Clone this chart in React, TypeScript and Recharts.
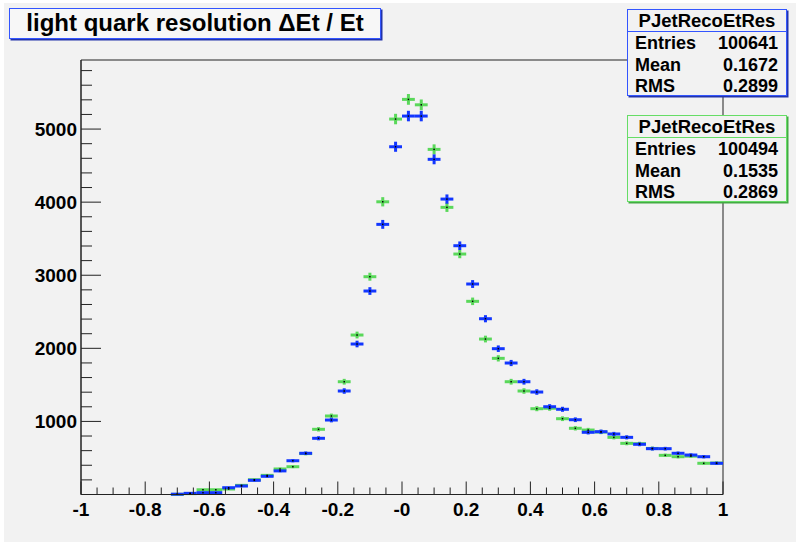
import React from 'react';
import { ComposedChart, Scatter, XAxis, YAxis, ErrorBar, ReferenceArea } from 'recharts';

// Histogram bin centres (bin width 0.04); bins below -0.72 are empty
const binCenters = [
  -0.70, -0.66, -0.62, -0.58, -0.54, -0.50, -0.46, -0.42, -0.38, -0.34,
  -0.30, -0.26, -0.22, -0.18, -0.14, -0.10, -0.06, -0.02, 0.02, 0.06,
  0.10, 0.14, 0.18, 0.22, 0.26, 0.30, 0.34, 0.38, 0.42, 0.46,
  0.50, 0.54, 0.58, 0.62, 0.66, 0.70, 0.74, 0.78, 0.82, 0.86,
  0.90, 0.94, 0.98,
];

// Entries per bin, first PJetRecoEtRes (blue)
const blueCounts = [
  4, 16, 25, 25, 93, 116, 194, 249, 323, 462,
  564, 769, 1019, 1416, 2059, 2784, 3696, 4758, 5178, 5178,
  4586, 4042, 3404, 2880, 2405, 1995, 1799, 1543, 1402, 1201,
  1166, 1023, 851, 859, 828, 782, 687, 627, 627, 564,
  540, 517, 427,
];

// Entries per bin, second PJetRecoEtRes (green)
const greenCounts = [
  2, 12, 65, 65, 75, 125, 202, 262, 349, 380,
  560, 892, 1074, 1543, 2182, 2980, 4005, 5137, 5406, 5332,
  4722, 3929, 3290, 2643, 2127, 1863, 1543, 1416, 1174, 1180,
  1037, 906, 882, 855, 782, 700, 695, 630, 536, 517,
  525, 427, 430,
];

const binHalfWidth = 0.02;

const xTicks = [
  -1, -0.95, -0.9, -0.85, -0.8, -0.75, -0.7, -0.65, -0.6, -0.55,
  -0.5, -0.45, -0.4, -0.35, -0.3, -0.25, -0.2, -0.15, -0.1, -0.05,
  0, 0.05, 0.1, 0.15, 0.2, 0.25, 0.3, 0.35, 0.4, 0.45,
  0.5, 0.55, 0.6, 0.65, 0.7, 0.75, 0.8, 0.85, 0.9, 0.95, 1,
];
const xMajorTicks = [-1, -0.8, -0.6, -0.4, -0.2, 0, 0.2, 0.4, 0.6, 0.8, 1];
const xMajorLabels = ['-1', '-0.8', '-0.6', '-0.4', '-0.2', '-0', '0.2', '0.4', '0.6', '0.8', '1'];

const yTicks = [
  0, 200, 400, 600, 800, 1000, 1200, 1400, 1600, 1800, 2000, 2200, 2400, 2600, 2800,
  3000, 3200, 3400, 3600, 3800, 4000, 4200, 4400, 4600, 4800, 5000, 5200, 5400, 5600, 5800,
];
const yMajorTicks = [1000, 2000, 3000, 4000, 5000];
const yMax = 5945;

const titleText = 'light quark resolution \u0394Et / Et';
const statsTitle = 'PJetRecoEtRes';
const statsNames = ['Entries', 'Mean', 'RMS'];
const blueStats = ['100641', '0.1672', '0.2899'];
const greenStats = ['100494', '0.1535', '0.2869'];

const BLUE = '#1236ff';
const GREEN = '#5ad85a';
const FONT = '"Liberation Sans", Arial, Helvetica, sans-serif';

const toPoints = (counts: number[]) =>
  binCenters.map((x, i) => ({ x, y: counts[i], ex: binHalfWidth, ey: Math.sqrt(counts[i]) }));

const bluePoints = toPoints(blueCounts);
const greenPoints = toPoints(greenCounts);

const near = (a: number, b: number) => Math.abs(a - b) < 1e-6;

const XTick = (props: any) => {
  const { x, y, payload } = props;
  const idx = xMajorTicks.findIndex((t) => near(t, payload.value));
  const major = idx >= 0;
  return (
    <g>
      <line x1={x} x2={x} y1={y} y2={y - (major ? 13 : 7)} stroke="#222" strokeWidth={1} />
      {major && (
        <text x={x} y={y + 21} textAnchor="middle" fontFamily={FONT} fontWeight="bold" fontSize={19} fill="#000">
          {xMajorLabels[idx]}
        </text>
      )}
    </g>
  );
};

const YTick = (props: any) => {
  const { x, y, payload } = props;
  const major = yMajorTicks.some((t) => near(t, payload.value));
  return (
    <g>
      <line x1={x} x2={x + (major ? 20 : 11)} y1={y} y2={y} stroke="#222" strokeWidth={1} />
      {major && (
        <text x={x - 4} y={y + 7} textAnchor="end" fontFamily={FONT} fontWeight="bold" fontSize={19} fill="#000">
          {payload.value}
        </text>
      )}
    </g>
  );
};

const Dot = (props: any) => {
  const { cx, cy } = props;
  if (cx == null || cy == null) return <g />;
  return <rect x={cx - 0.75} y={cy - 0.75} width={1.5} height={1.5} fill="#000" />;
};

const StatsBox = ({ top, color, shade, values }: { top: number; color: string; shade: string; values: string[] }) => (
  <div
    style={{
      position: 'absolute',
      left: 627,
      top,
      width: 160,
      height: 87,
      boxSizing: 'border-box',
      border: `1.5px solid ${color}`,
      boxShadow: `1.5px 1.5px 0 ${shade}`,
      background: '#f2f2f2',
      fontFamily: FONT,
      fontWeight: 'bold',
      fontSize: 18,
      color: '#000',
    }}
  >
    <div style={{ position: 'absolute', left: 0, right: 0, top: 0, height: 22, lineHeight: '22px', textAlign: 'center', fontSize: 18.5 }}>
      {statsTitle}
    </div>
    <div style={{ position: 'absolute', left: 0, right: 0, top: 21, borderTop: `1.5px solid ${color}` }} />
    {statsNames.map((name, i) => (
      <div
        key={name}
        style={{ position: 'absolute', left: 7, right: 8, top: 23 + i * 21.5, height: 21, lineHeight: '21px' }}
      >
        <span>{name}</span>
        <span style={{ position: 'absolute', right: 0 }}>{values[i]}</span>
      </div>
    ))}
  </div>
);

export default function App() {
  return (
    <div style={{ position: 'absolute', left: 0, top: 0, width: 796, height: 543, background: '#ffffff', overflow: 'hidden' }}>
      <div style={{ position: 'absolute', left: 4, top: 3, width: 792, height: 539, background: '#f2f2f2' }} />
      <div style={{ position: 'absolute', left: 0, top: 0 }}>
        <ComposedChart width={796} height={543} margin={{ top: 60, right: 73, bottom: 0, left: 0 }}>
          <XAxis
            type="number"
            dataKey="x"
            domain={[-1, 1]}
            ticks={xTicks}
            interval={0}
            tickSize={0}
            tickMargin={0}
            tickLine={false}
            axisLine={{ stroke: '#222', strokeWidth: 1 }}
            tick={<XTick />}
            height={48.5}
            allowDataOverflow
          />
          <YAxis
            type="number"
            dataKey="y"
            domain={[0, yMax]}
            ticks={yTicks}
            interval={0}
            tickSize={0}
            tickMargin={0}
            tickLine={false}
            axisLine={{ stroke: '#222', strokeWidth: 1 }}
            tick={<YTick />}
            width={81}
            allowDataOverflow
          />
          <ReferenceArea x1={-1} x2={1} y1={0} y2={yMax} fill="none" stroke="#222" strokeWidth={1} ifOverflow="visible" />
          <Scatter data={greenPoints} dataKey="y" shape={<Dot />} isAnimationActive={false}>
            <ErrorBar dataKey="ex" direction="x" width={0} stroke={GREEN} strokeWidth={3} isAnimationActive={false} />
            <ErrorBar dataKey="ey" direction="y" width={0} stroke={GREEN} strokeWidth={3} isAnimationActive={false} />
          </Scatter>
          <Scatter data={bluePoints} dataKey="y" shape={<Dot />} isAnimationActive={false}>
            <ErrorBar dataKey="ex" direction="x" width={0} stroke={BLUE} strokeWidth={3} isAnimationActive={false} />
            <ErrorBar dataKey="ey" direction="y" width={0} stroke={BLUE} strokeWidth={3} isAnimationActive={false} />
          </Scatter>
        </ComposedChart>
      </div>
      <div
        style={{
          position: 'absolute',
          left: 9,
          top: 8,
          width: 372,
          height: 31,
          boxSizing: 'border-box',
          border: '1.5px solid #3355ff',
          boxShadow: '1.5px 1.5px 0 #2233aa',
          background: '#f7f7f7',
          fontFamily: FONT,
          fontWeight: 'bold',
          fontSize: 24,
          lineHeight: '28px',
          textAlign: 'center',
          color: '#000',
        }}
      >
        {titleText}
      </div>
      <StatsBox top={9} color="#3355ff" shade="#2233aa" values={blueStats} />
      <StatsBox top={115} color="#66dd66" shade="#44aa44" values={greenStats} />
    </div>
  );
}
